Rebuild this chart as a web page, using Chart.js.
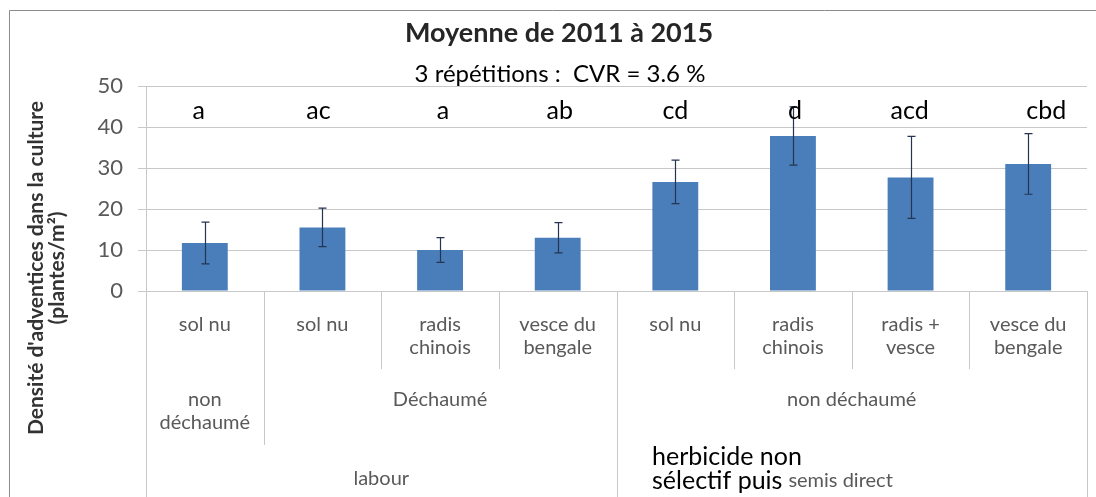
<!DOCTYPE html>
<html lang="fr">
<head>
<meta charset="UTF-8">
<title>Moyenne de 2011 à 2015</title>
<style>
  html, body { margin: 0; padding: 0; background: #fff; }
  canvas { display: block; }
</style>
</head>
<body>
<canvas id="chart" width="1096" height="497"></canvas>
<script src="https://cdn.jsdelivr.net/npm/chart.js"></script>
<script>
// données
const categories = ['sol nu', 'sol nu', 'radis chinois', 'vesce du bengale', 'sol nu', 'radis chinois', 'radis + vesce', 'vesce du bengale'];
const catLines = [['sol nu'], ['sol nu'], ['radis', 'chinois'], ['vesce du', 'bengale'], ['sol nu'], ['radis', 'chinois'], ['radis +', 'vesce'], ['vesce du', 'bengale']];
const means = [11.7, 15.5, 10.0, 13.0, 26.6, 37.8, 27.7, 31.0];
const errors = [5.1, 4.7, 3.0, 3.7, 5.3, 7.1, 10.0, 7.4];
const letters = ['a', 'ac', 'a', 'ab', 'cd', 'd', 'acd', 'cbd'];
const yTicks = [0, 10, 20, 30, 40, 50];

// regroupements de l'axe des catégories
const groupLabels2 = [['non', 'déchaumé'], ['Déchaumé'], ['non déchaumé']];
const groupRange2 = [[0, 0], [1, 3], [4, 7]];
const groupLabels3 = ['labour', 'semis direct'];
const groupRange3 = [[0, 3], [4, 7]];

const titleText = 'Moyenne de 2011 à 2015';
const subtitleText = '3 répétitions :  CVR = 3.6 %';
const yTitle = ["Densité d'adventices dans la culture", '(plantes/m²)'];
const noteLines = ['herbicide non', 'sélectif puis'];

const FONT = 'Lato, "Open Sans", sans-serif';
const GRID = '#c8c8c8';
const letterDx = [-6, -4, 3, 2, 0, 2, -1, 18];

function text(ctx, str, x, y, font, color, align) {
  ctx.font = font;
  ctx.fillStyle = color;
  ctx.textAlign = align || 'center';
  ctx.textBaseline = 'alphabetic';
  ctx.fillText(str, x, y);
}

// fond, cadre, titre et sous-titre (sous la zone de tracé)
const backPlugin = {
  id: 'back',
  beforeDraw(chart) {
    const ctx = chart.ctx;
    const a = chart.chartArea;
    ctx.save();
    ctx.fillStyle = '#fff';
    ctx.fillRect(0, 0, chart.width, chart.height);
    ctx.strokeStyle = '#8c8c8c';
    ctx.lineWidth = 1;
    ctx.beginPath();
    ctx.moveTo(9.5, chart.height);
    ctx.lineTo(9.5, 10.5);
    ctx.lineTo(chart.width, 10.5);
    ctx.stroke();
    text(ctx, titleText, 559, 42, 'bold 27px ' + FONT, '#262626');
    text(ctx, subtitleText, 560, 82, '24px ' + FONT, '#000');
    ctx.fillStyle = '#fff';
    ctx.fillRect(a.left, a.top, a.right - a.left, a.bottom - a.top);
    ctx.restore();
  }
};

// barres d'erreur, lettres, axe des catégories à plusieurs niveaux
const annotPlugin = {
  id: 'annot',
  afterDatasetsDraw(chart) {
    const ctx = chart.ctx;
    const x = chart.scales.x, y = chart.scales.y;
    ctx.save();
    ctx.strokeStyle = '#25344f';
    ctx.lineWidth = 1.2;
    means.forEach((m, i) => {
      const px = Math.round(x.getPixelForValue(i)) + 0.5;
      const top = y.getPixelForValue(m + errors[i]);
      const bot = y.getPixelForValue(m - errors[i]);
      ctx.beginPath();
      ctx.moveTo(px, top); ctx.lineTo(px, bot);
      ctx.moveTo(px - 4, top); ctx.lineTo(px + 4, top);
      ctx.moveTo(px - 4, bot); ctx.lineTo(px + 4, bot);
      ctx.stroke();
    });
    ctx.restore();
  },
  afterDraw(chart) {
    const ctx = chart.ctx;
    const x = chart.scales.x;
    const a = chart.chartArea;
    const n = categories.length;
    const edge = i => i <= 0 ? a.left : i >= n ? a.right : (x.getPixelForValue(i - 1) + x.getPixelForValue(i)) / 2;
    ctx.save();

    letters.forEach((l, i) => {
      text(ctx, l, x.getPixelForValue(i) + letterDx[i], 119, '25px ' + FONT, '#000');
    });

    // séparateurs verticaux
    ctx.strokeStyle = GRID;
    ctx.lineWidth = 1;
    const starts2 = groupRange2.map(r => r[0]);
    const starts3 = groupRange3.map(r => r[0]);
    for (let i = 0; i <= n; i++) {
      let bottom = 369;
      if (i === 0 || i === n || starts3.includes(i)) bottom = chart.height;
      else if (starts2.includes(i)) bottom = 445;
      const px = Math.round(edge(i)) + 0.5;
      ctx.beginPath();
      ctx.moveTo(px, a.bottom);
      ctx.lineTo(px, bottom);
      ctx.stroke();
    }

    const labFont = '20px ' + FONT;
    const labColor = '#595959';
    catLines.forEach((lines, i) => {
      lines.forEach((s, k) => text(ctx, s, x.getPixelForValue(i), 331 + k * 23, labFont, labColor));
    });
    groupLabels2.forEach((lines, g) => {
      const cx = (edge(groupRange2[g][0]) + edge(groupRange2[g][1] + 1)) / 2;
      lines.forEach((s, k) => text(ctx, s, cx, 406 + k * 23, labFont, labColor));
    });

    // note ajoutée sur le graphique, suivie du libellé « semis direct »
    const noteX = 652;
    noteLines.forEach((s, k) => text(ctx, s, noteX, 465 + k * 24, '25px ' + FONT, '#000', 'left'));
    ctx.font = '25px ' + FONT;
    const afterNote = noteX + ctx.measureText(noteLines[1]).width + 6;
    groupLabels3.forEach((s, g) => {
      if (g === 1) {
        text(ctx, s, afterNote, 487, labFont, labColor, 'left');
      } else {
        const cx = (edge(groupRange3[g][0]) + edge(groupRange3[g][1] + 1)) / 2;
        text(ctx, s, cx, 485, labFont, labColor);
      }
    });

    // titre de l'axe vertical
    ctx.translate(0, 268);
    ctx.rotate(-Math.PI / 2);
    yTitle.forEach((s, k) => text(ctx, s, 0, 43 + k * 21, 'bold 21px ' + FONT, '#333'));
    ctx.restore();
  }
};

new Chart(document.getElementById('chart'), {
  type: 'bar',
  data: {
    labels: categories,
    datasets: [{
      data: means,
      backgroundColor: '#4a7ebb',
      barPercentage: 0.39,
      categoryPercentage: 1
    }]
  },
  options: {
    responsive: false,
    animation: false,
    devicePixelRatio: 1,
    layout: { padding: { left: 0, top: 86, right: 9, bottom: 206 } },
    plugins: { legend: { display: false }, tooltip: { enabled: false } },
    scales: {
      x: {
        ticks: { display: false },
        grid: { display: false },
        border: { display: true, color: GRID },
        afterFit: s => { s.height = 0; }
      },
      y: {
        min: 0,
        max: 50,
        afterBuildTicks: s => { s.ticks = yTicks.map(v => ({ value: v })); },
        ticks: { font: { family: FONT, size: 22 }, color: '#595959', padding: 15 },
        grid: { color: GRID, tickLength: 8 },
        border: { display: true, color: GRID },
        afterFit: s => { s.width = 146; }
      }
    }
  },
  plugins: [backPlugin, annotPlugin]
});
</script>
</body>
</html>
